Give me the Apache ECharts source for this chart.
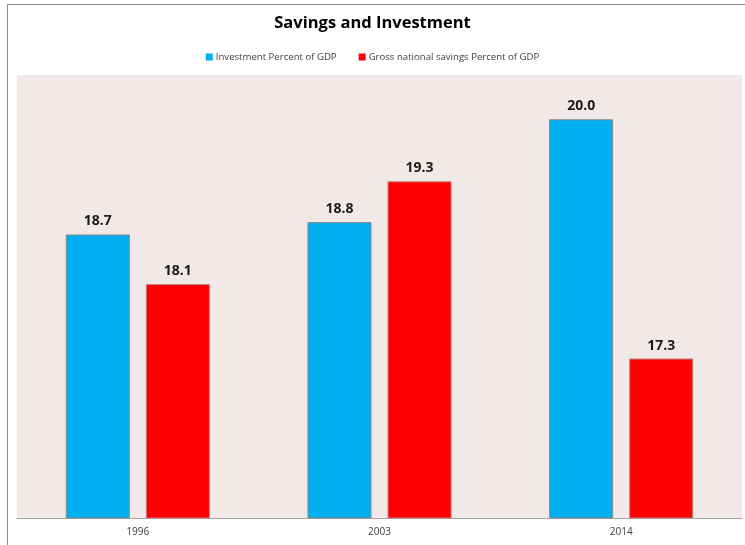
<!DOCTYPE html>
<html>
<head>
<meta charset="utf-8">
<script src="https://cdn.jsdelivr.net/npm/echarts@6/dist/echarts.min.js"></script>
<style>
html,body{margin:0;padding:0;background:#fff;}
#chart{width:745px;height:545px;}
</style>
</head>
<body>
<div id="chart"></div>
<script>
const categories = ['1996', '2003', '2014'];
const investment = [18.7, 18.84, 20.0];
const savings = [18.14, 19.3, 17.3];
const seriesNames = ['Investment Percent of GDP', 'Gross national savings Percent of GDP'];

const FONT = '"Open Sans", sans-serif';
const chart = echarts.init(document.getElementById('chart'));
const labelStyle = {
  show: true, position: 'top', distance: 6,
  fontFamily: FONT, fontWeight: 'bold', fontSize: 14, color: '#1a1a1a',
  formatter: p => p.value.toFixed(1)
};
chart.setOption({
  animation: false,
  backgroundColor: '#ffffff',
  graphic: [{
    type: 'rect', left: 5, top: 2, silent: true,
    shape: {width: 739, height: 541},
    style: {fill: 'none', stroke: '#8c8c8c', lineWidth: 1}
  }],
  title: {
    text: 'Savings and Investment', left: 'center', top: 10,
    textStyle: {fontFamily: FONT, fontWeight: 'bold', fontSize: 16.5, color: '#000'}
  },
  legend: {
    top: 47, left: 'center', itemWidth: 7, itemHeight: 7, itemGap: 22,
    icon: 'rect',
    itemStyle: {borderWidth: 0},
    textStyle: {fontFamily: FONT, fontSize: 9.6, color: '#404040', padding: [0,0,0,-2]},
    data: seriesNames
  },
  grid: {
    left: 17, right: 3, top: 75, bottom: 27,
    show: true, backgroundColor: '#F2E8E7', borderWidth: 0
  },
  xAxis: {
    type: 'category', data: categories,
    axisLine: {lineStyle: {color: '#A6A6A6'}},
    axisTick: {show: false},
    axisLabel: {fontFamily: FONT, fontSize: 10, color: '#404040', margin: 9}
  },
  yAxis: {
    type: 'value', min: 15.5, max: 20.5, show: false,
    splitLine: {show: false}
  },
  series: [
    {
      name: seriesNames[0], type: 'bar', data: investment,
      barWidth: '26.5%', barGap: '25%',
      itemStyle: {color: '#00B0F0', borderColor: '#8a8a8a', borderWidth: 1},
      label: labelStyle
    },
    {
      name: seriesNames[1], type: 'bar', data: savings,
      barWidth: '26.5%', barGap: '25%',
      itemStyle: {color: '#FF0000', borderColor: '#c08080', borderWidth: 1},
      label: labelStyle
    }
  ]
});
</script>
</body>
</html>
